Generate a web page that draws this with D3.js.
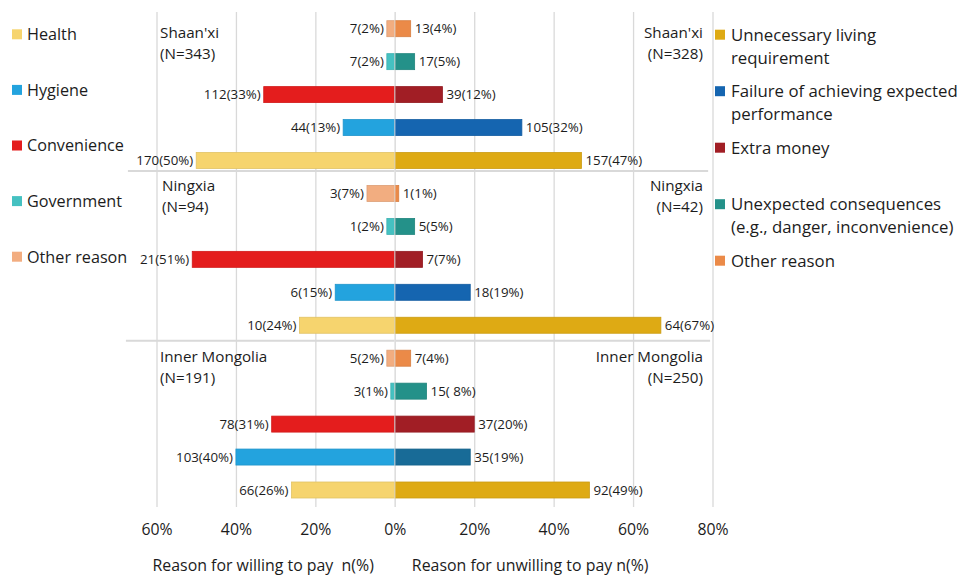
<!DOCTYPE html>
<html>
<head>
<meta charset="utf-8">
<script src="https://cdn.jsdelivr.net/npm/d3@7"></script>
<style>
  html, body { margin: 0; padding: 0; background: #fff; overflow: hidden; }
  svg { display: block; font-family: "Open Sans", sans-serif; }
</style>
</head>
<body>
<svg id="chart" width="957" height="581"></svg>
<script>
// regions, top to bottom
var regions = ["Shaan'xi", "Ningxia", "Inner Mongolia"];
var willingN = [343, 94, 191];
var unwillingN = [328, 42, 250];

// reasons in bar order, top to bottom inside each region
var willingReasons = ["Other reason", "Government", "Convenience", "Hygiene", "Health"];
var unwillingReasons = ["Other reason", "Unexpected consequences (e.g., danger, inconvenience)", "Extra money", "Failure of achieving expected performance", "Unnecessary living requirement"];

// percentages (bar length) per region
var willingPct = [[2, 2, 33, 13, 50], [7, 2, 51, 15, 24], [2, 1, 31, 40, 26]];
var unwillingPct = [[4, 5, 12, 32, 47], [1, 5, 7, 19, 67], [4, 8, 20, 19, 49]];

// bar labels n(%)
var willingText = [["7(2%)", "7(2%)", "112(33%)", "44(13%)", "170(50%)"],
                   ["3(7%)", "1(2%)", "21(51%)", "6(15%)", "10(24%)"],
                   ["5(2%)", "3(1%)", "78(31%)", "103(40%)", "66(26%)"]];
var unwillingText = [["13(4%)", "17(5%)", "39(12%)", "105(32%)", "157(47%)"],
                     ["1(1%)", "5(5%)", "7(7%)", "18(19%)", "64(67%)"],
                     ["7(4%)", "15( 8%)", "37(20%)", "35(19%)", "92(49%)"]];

var tickValues = [-60, -40, -20, 0, 20, 40, 60, 80];

var willingColors = ["#F2AD80", "#45C1C1", "#E41D1D", "#23A3DE", "#F6D46E"];
var unwillingColors = ["#EB8A48", "#249189", "#A11E25", "#1565B0", "#DEAA14"];
var failureColorByRegion = ["#1565B0", "#1565B0", "#186B97"];

var leftLegend = ["Health", "Hygiene", "Convenience", "Government", "Other reason"];
var leftLegendColors = ["#F6D46E", "#23A3DE", "#E41D1D", "#45C1C1", "#F2AD80"];
var rightLegend = [["Unnecessary living", "requirement"], ["Failure of achieving expected", "performance"],
                   ["Extra money"], ["Unexpected consequences", "(e.g., danger, inconvenience)"], ["Other reason"]];
var rightLegendColors = ["#DEAA14", "#1565B0", "#A11E25", "#249189", "#EB8A48"];

var svg = d3.select("#chart"),
    textColor = "#1c1c1c",
    gridColor = "#D9D9D9",
    barH = 16,
    gridTop = 12,
    gridBottom = 507;

var x = d3.scaleLinear().domain([-60, 80]).range([156.5, 712.5]);
var y = d3.scaleLinear().domain([0, 14]).range([28.7, 490]);

// flatten to rows
var rows = [];
regions.forEach(function (r, g) {
    willingReasons.forEach(function (reason, i) {
        rows.push({
            row: g * 5 + i,
            left: willingPct[g][i],
            right: unwillingPct[g][i],
            leftText: willingText[g][i],
            rightText: unwillingText[g][i],
            leftColor: willingColors[i],
            rightColor: i === 3 ? failureColorByRegion[g] : unwillingColors[i]
        });
    });
});

// grid + tick labels
var axis = svg.append("g").attr("class", "x-axis")
    .attr("transform", "translate(0," + gridBottom + ")")
    .call(d3.axisBottom(x).tickValues(tickValues)
        .tickFormat(function (d) { return Math.abs(d) + "%"; })
        .tickSize(-(gridBottom - gridTop)).tickPadding(16.5));
axis.select(".domain").remove();
axis.selectAll(".tick line").attr("stroke", gridColor).attr("stroke-width", 1.3);
axis.selectAll(".tick text").attr("fill", textColor).style("font-size", "15.8px").style("font-family", "Open Sans, sans-serif");

// region separators
var sepRows = [4.32, 9.47];
svg.selectAll(".sep").data(sepRows).enter().append("line")
    .attr("class", "sep")
    .attr("x1", function (d, i) { return x(i === 0 ? -67.2 : -67.7); })
    .attr("x2", function (d, i) { return x(i === 0 ? 78.9 : 79.4); })
    .attr("y1", function (d) { return y(d); }).attr("y2", function (d) { return y(d); })
    .attr("stroke", gridColor).attr("stroke-width", 2);

var bars = svg.append("g").attr("class", "bars");
bars.selectAll(".bar-left").data(rows).enter().append("rect")
    .attr("class", "bar-left")
    .attr("x", function (d) { return x(-d.left); })
    .attr("y", function (d) { return y(d.row) - barH / 2; })
    .attr("width", function (d) { return x(0) - x(-d.left); })
    .attr("height", barH)
    .attr("fill", function (d) { return d.leftColor; })
    .attr("stroke", function (d) { return d3.rgb(d.leftColor).darker(0.25); })
    .attr("stroke-width", 0.8);
bars.selectAll(".bar-right").data(rows).enter().append("rect")
    .attr("class", "bar-right")
    .attr("x", x(0))
    .attr("y", function (d) { return y(d.row) - barH / 2; })
    .attr("width", function (d) { return x(d.right) - x(0); })
    .attr("height", barH)
    .attr("fill", function (d) { return d.rightColor; })
    .attr("stroke", function (d) { return d3.rgb(d.rightColor).darker(0.25); })
    .attr("stroke-width", 0.8);

// zero line over the bars
svg.append("line")
    .attr("x1", x(0)).attr("x2", x(0)).attr("y1", gridTop).attr("y2", gridBottom)
    .attr("stroke", "#E6E6E6").attr("stroke-opacity", 0.75).attr("stroke-width", 1.3);

// bar labels
var labels = svg.append("g").attr("class", "labels").style("font-size", "13.3px").attr("fill", textColor);
labels.selectAll(".lab-left").data(rows).enter().append("text")
    .attr("x", function (d) { return x(-d.left) - 3; })
    .attr("y", function (d) { return y(d.row); })
    .attr("dy", "0.35em")
    .attr("text-anchor", "end")
    .text(function (d) { return d.leftText; });
labels.selectAll(".lab-right").data(rows).enter().append("text")
    .attr("x", function (d) { return x(d.right) + 4; })
    .attr("y", function (d) { return y(d.row); })
    .attr("dy", "0.35em")
    .attr("text-anchor", "start")
    .attr("xml:space", "preserve")
    .text(function (d) { return d.rightText; });

// region names
var regionBase = [37.5, 191, 362];
var regionG = svg.append("g").style("font-size", "15.2px").attr("fill", textColor);
regions.forEach(function (r, g) {
    var lx = x(g === 1 ? -58.6 : -59.1);
    var left = regionG.append("text").attr("y", regionBase[g]);
    left.append("tspan").attr("x", lx).text(r);
    left.append("tspan").attr("x", lx).attr("dy", 21).text("(N=" + willingN[g] + ")");
    var right = regionG.append("text").attr("text-anchor", "end").attr("y", regionBase[g]);
    right.append("tspan").attr("x", x(77.6)).text(r);
    right.append("tspan").attr("x", x(77.6)).attr("dy", 21).text("(N=" + unwillingN[g] + ")");
});

// axis titles
var titles = svg.append("g").style("font-size", "15.9px").attr("fill", textColor);
titles.append("text").attr("x", x(-61)).attr("y", 571).attr("xml:space", "preserve").text("Reason for willing to pay  n(%)");
titles.append("text").attr("x", x(4.3)).attr("y", 571).text("Reason for unwilling to pay n(%)");

// left legend
var legL = svg.append("g").style("font-size", "16.2px").attr("fill", textColor);
var legLy = d3.scaleLinear().domain([0, 4]).range([34.3, 256.7]);
legL.selectAll("rect").data(leftLegend).enter().append("rect")
    .attr("x", 12).attr("y", function (d, i) { return legLy(i) - 5; })
    .attr("width", 10).attr("height", 10)
    .attr("fill", function (d, i) { return leftLegendColors[i]; });
legL.selectAll("text").data(leftLegend).enter().append("text")
    .attr("x", 27).attr("y", function (d, i) { return legLy(i); })
    .attr("dy", "0.36em")
    .text(function (d) { return d; });

// right legend
var legR = svg.append("g").style("font-size", "16.8px").attr("fill", textColor);
var legRy = d3.scaleLinear().domain([0, 4]).range([34.7, 260.7]);
rightLegend.forEach(function (lines, i) {
    legR.append("rect").attr("x", 715).attr("y", legRy(i) - 5)
        .attr("width", 10).attr("height", 10).attr("fill", rightLegendColors[i]);
    var t = legR.append("text").attr("x", 731).attr("y", legRy(i));
    lines.forEach(function (line, j) {
        t.append("tspan").attr("x", 731).attr("dy", j === 0 ? "0.36em" : 23).text(line);
    });
});
</script>
</body>
</html>
